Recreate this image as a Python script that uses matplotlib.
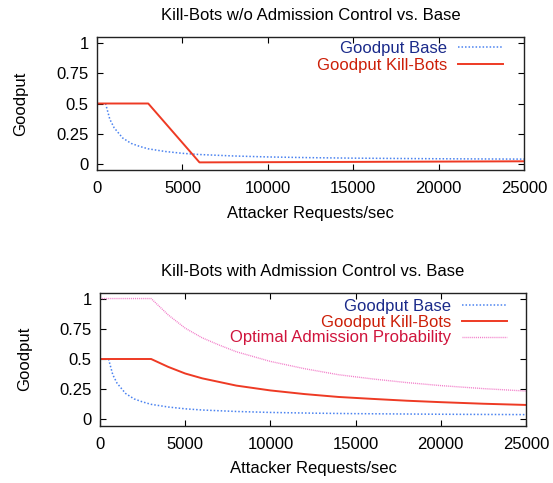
import matplotlib
matplotlib.use("Agg")
import matplotlib.pyplot as plt

plt.rcParams['font.family'] = ['Liberation Sans', 'DejaVu Sans']
plt.rcParams['font.size'] = 12

# --- data ---
x_ticks = [0, 5000, 10000, 15000, 20000, 25000]
y_ticks = [0, 0.25, 0.5, 0.75, 1]
y_tick_labels = ["0", "0.25", "0.5", "0.75", "1"]

# Goodput Base (same curve in both plots)
base_x = [500, 750, 1000, 1500, 2000, 2500, 3000, 4000, 5000, 6000,
          8000, 10000, 12500, 15000, 20000, 25000]
base_y = [0.5, 0.37, 0.3, 0.215, 0.17, 0.145, 0.125, 0.103, 0.088, 0.078,
          0.066, 0.058, 0.052, 0.048, 0.043, 0.04]

# Kill-Bots without admission control
kb_noac_x = [0, 3000, 6000, 15000, 25000]
kb_noac_y = [0.5, 0.5, 0.013, 0.017, 0.022]

# Kill-Bots with admission control
curve_x = [0, 3000, 4000, 5000, 6000, 7000, 8000, 10000, 12000, 14000,
           16000, 18000, 20000, 22500, 25000]
kb_ac_y = [0.5, 0.5, 0.435, 0.38, 0.34, 0.31, 0.28, 0.24, 0.21, 0.186,
           0.17, 0.155, 0.143, 0.13, 0.12]
opt_adm_y = [1.0, 1.0, 0.865, 0.755, 0.675, 0.615, 0.56, 0.48, 0.42, 0.37,
             0.335, 0.305, 0.28, 0.255, 0.235]

c_base = '#4a82f0'
c_kb = '#ee3a24'
c_opt = '#f27ac8'
t_base = '#1a2a8a'
t_kb = '#cc1f08'
t_opt = '#d0143c'

W, H = 553, 483
fig = plt.figure(figsize=(W / 100, H / 100), dpi=100)

ax1 = fig.add_axes([97 / W, 1 - 170 / H, 427 / W, 133 / H])
ax2 = fig.add_axes([100 / W, 1 - 425.5 / H, 426 / W, 133 / H])


def style(ax, title):
    ax.set_xlim(0, 25000)
    ax.set_ylim(-0.05, 1.05)
    ax.set_xticks(x_ticks)
    ax.set_yticks(y_ticks)
    ax.set_yticklabels(y_tick_labels)
    ax.tick_params(direction='in', top=True, right=True, length=4,
                   width=0.8, labelsize=12)
    ax.tick_params(axis='x', pad=8)
    ax.tick_params(axis='y', pad=6)
    for s in ax.spines.values():
        s.set_linewidth(1.0)
        s.set_color('#222222')
    ax.set_title(title, fontsize=12, pad=12)
    ax.set_xlabel("Attacker Requests/sec", fontsize=12)
    ax.xaxis.set_label_coords(0.5, -43 / 133)
    ax.xaxis.label.set_va('center')
    ax.set_ylabel("Goodput", fontsize=12)
    ax.yaxis.set_label_coords(-76 / 427, 0.5)
    ax.yaxis.label.set_va('center')


style(ax1, "Kill-Bots w/o Admission Control vs. Base")
ax1.plot(base_x, base_y, color=c_base, linestyle=(0, (1.0, 1.3)), lw=1.1,
         label="Goodput Base")
ax1.plot(kb_noac_x, kb_noac_y, color=c_kb, lw=1.4, label="Goodput Kill-Bots")
ax1.legend(loc='upper right', bbox_to_anchor=(0.951, 0.972), frameon=False,
           markerfirst=False, handlelength=2.7, handletextpad=0.66,
           labelspacing=0.12, borderpad=0, borderaxespad=0, fontsize=12,
           labelcolor=[t_base, t_kb])

style(ax2, "Kill-Bots with Admission Control vs. Base")
ax2.plot(base_x, base_y, color=c_base, linestyle=(0, (1.0, 1.3)), lw=1.1,
         label="Goodput Base")
ax2.plot(curve_x, kb_ac_y, color=c_kb, lw=1.4, label="Goodput Kill-Bots")
ax2.plot(curve_x, opt_adm_y, color=c_opt, linestyle=(0, (0.7, 0.7)), lw=1.0,
         label="Optimal Admission Probability")
ax2.legend(loc='upper right', bbox_to_anchor=(0.955, 0.953), frameon=False,
           markerfirst=False, handlelength=2.7, handletextpad=0.66,
           labelspacing=0.05, borderpad=0, borderaxespad=0, fontsize=12,
           labelcolor=[t_base, t_kb, t_opt])

fig.savefig("out.png", dpi=100)
